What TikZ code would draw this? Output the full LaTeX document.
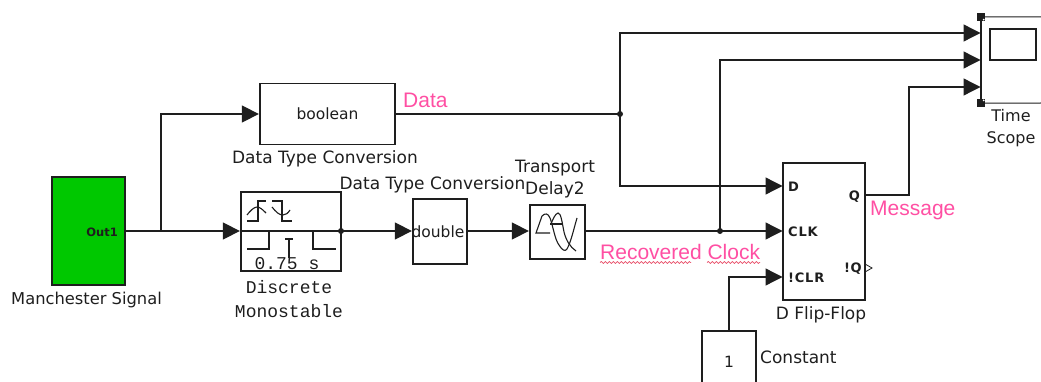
\documentclass[tikz,border=0pt]{standalone}
\usepackage{fontspec}
\setmainfont{DejaVu Sans}
\setmonofont{Liberation Mono}
\newfontfamily\pinkfont{Liberation Sans}
\newfontfamily\portfont[LetterSpace=6]{DejaVu Sans}
\usetikzlibrary{arrows.meta,decorations.pathmorphing}
\definecolor{ink}{HTML}{1E1E1E}
\definecolor{pinklabel}{HTML}{FF4FA3}
\definecolor{simgreen}{HTML}{00C800}
\definecolor{squiggle}{HTML}{E8506A}
\tikzset{
  blockbox/.style={draw=ink,line width=1.3pt,fill=white,inner sep=0pt,text=ink,font=\fontsize{15.5}{17}\selectfont},
  wire/.style={draw=ink,line width=1.3pt},
  sig/.style={wire,-{Triangle[length=17pt,width=17pt]},shorten >=0.5pt},
  dotj/.style={circle,fill=ink,draw=none,inner sep=0pt,minimum size=6pt},
  captext/.style={text=ink,inner sep=0pt,font=\fontsize{17}{22}\selectfont,align=center},
  monotext/.style={text=ink,inner sep=0pt,font=\ttfamily\fontsize{18}{24}\selectfont,align=center},
  pinktext/.style={text=pinklabel,inner sep=0pt,font=\pinkfont\fontsize{21}{24}\selectfont},
  port/.style={text=ink,inner sep=0pt,font=\portfont\bfseries\fontsize{13}{14}\selectfont},
  icon/.style={draw=ink,line width=1.1pt},
  handle/.style={fill=ink,minimum size=8pt,inner sep=0pt},
  wavy/.style={draw=squiggle,line width=.7pt,decorate,decoration={snake,amplitude=1pt,segment length=4pt}},
}
\begin{document}
\begin{tikzpicture}[x=1pt,y=-1pt]
\useasboundingbox (0,0) rectangle (1041,382);

% blocks
\node[blockbox,fill=simgreen,minimum width=73pt,minimum height=108pt] (src) at (88.5,231) {};
\node[text=ink,inner sep=0pt,font=\bfseries\fontsize{11.5}{14}\selectfont,anchor=east] (outlbl) at (118,232) {Out1};
\node[blockbox,minimum width=135pt,minimum height=61pt] (bool) at (327.5,114) {boolean};
\node[blockbox,minimum width=100pt,minimum height=79pt] (mono) at (291,231.5) {};
\node[blockbox,minimum width=54pt,minimum height=65pt] (dbl) at (440,231.5) {\hspace{-4pt}double\hspace{-4pt}};
\node[blockbox,minimum width=55pt,minimum height=54pt] (delay) at (557.5,232) {};
\node[blockbox,minimum width=82pt,minimum height=137pt] (ff) at (824,231.5) {};
\node[blockbox,minimum width=54pt,minimum height=62pt] (const) at (729,362) {1};

% scope
\node[draw=none,minimum width=1pt,minimum height=86pt,inner sep=0pt] (scope) at (981,60) {};
\draw[wire] (scope.north) -- (scope.south);
\coordinate (scopeTR) at (1041,17);
\coordinate (scopeBR) at (1041,103);
\draw[wire,line width=1pt] (scope.north) -- (scopeTR);
\draw[wire,line width=1pt] (scope.south) -- (scopeBR);
\node[draw=ink,line width=1.2pt,minimum width=46pt,minimum height=31pt,inner sep=0pt] (screen) at (1013,44.5) {};
\node[handle] (hTL) at (981,17) {};
\node[handle] (hBL) at (981,103) {};
\fill[white] (hTL.south east) ++(-1.5,-1.5) circle (1pt);
\fill[white] (hBL.north east) ++(-1.5,1.5) circle (1pt);

% junctions and routing points
\coordinate (j0) at (161,231);
\node[dotj] (j1) at (341,231) {};
\node[dotj] (j2) at (620,114) {};
\node[dotj] (j3) at (720,231) {};
\coordinate (inD) at (783,186);
\coordinate (inC) at (783,231);
\coordinate (inR) at (783,277);
\coordinate (outQ) at (865,195);
\coordinate (bendQ) at (909,87);
\coordinate (s1) at (981,33);
\coordinate (s2) at (981,60);
\coordinate (s3) at (981,87);

% connectors
\draw[wire] (src.east |- j0) -- (j0);
\draw[sig] (j0) -- (mono.west |- j0);
\draw[sig] (j0) |- (bool.west);
\draw[wire] (bool.east) -- (j2.center);
\draw[sig] (j2.center) |- (s1);
\draw[sig] (j2.center) |- (inD);
\draw[sig] (mono.east |- j1) -- (dbl.west |- j1);
\draw[sig] (dbl.east |- j1) -- (delay.west |- j1);
\draw[wire] (delay.east |- j3) -- (j3.center);
\draw[sig] (j3.center) -- (inC);
\draw[sig] (j3.center) |- (s2);
\draw[sig] (const.north) |- (inR);
\draw[sig] (outQ) -| (bendQ) -- (s3);

% monostable icon
\draw[icon] (247,221) -- (258,221) -- (258,201) -- (266,201);
\draw[icon] (247,215) .. controls (250,211) and (254,207) .. (257,207) .. controls (260,207) and (263,210) .. (266,213);
\draw[icon] (272,201) -- (282,201) -- (282,221) -- (292,221);
\draw[icon] (272,207) .. controls (276,212) and (279,215) .. (283,215) .. controls (286,215) and (288,213) .. (290,210);
\draw[wire] (mono.west |- j1) -- (mono.east |- j1);
\draw[icon] (247,249) -- (269,249) -- (269,232);
\draw[icon] (285,239) -- (293,239) (289,239) -- (289,258);
\draw[icon] (313,232) -- (313,249) -- (336,249);
\node[monotext] (tdelay) at (287,263.5) {0.75 s};

% transport delay icon
\draw[icon] (550,233) -- (536,233) -- (542,216) .. controls (545,213) and (548,213) .. (550,218) .. controls (553,226) and (555,240) .. (559,245) .. controls (562,250) and (565,252) .. (567,249) .. controls (571,242) and (574,228) .. (577,218);
\draw[icon] (551,224) .. controls (553,219) and (555,214) .. (558,213) .. controls (561,213) and (562,222) .. (564,232) .. controls (566,240) and (570,247) .. (576,251);
\draw[icon] (550,224) -- (563,224);

% captions
\node[captext,font=\fontsize{16.3}{22}\selectfont] (capsrc) at (86.5,300) {Manchester Signal};
\node[captext] (capbool) at (325,159) {Data Type Conversion};
\node[captext] (capdbl) at (432.5,185) {Data Type Conversion};
\node[captext] (capdelay) at (555,179) {Transport\\Delay2};
\node[monotext] (capmono) at (289,299) {Discrete\\Monostable};
\node[captext] (capff) at (821,315) {D Flip-Flop};
\node[captext,anchor=west] (capconst) at (760,357) {Constant};
\node[captext,font=\fontsize{16}{22}\selectfont] (capscope) at (1011,128) {Time\\Scope};

% flip-flop ports
\node[port,anchor=west] (pD) at (788,187) {D};
\node[port,anchor=west] (pC) at (788,232) {CLK};
\node[port,anchor=west] (pR) at (788,278) {!CLR};
\node[port,anchor=east] (pQ) at (860,197) {Q};
\node[port,anchor=east] (pNQ) at (862,269) {!Q};
\coordinate (qa) at (865,264);
\coordinate (qb) at (872,268);
\coordinate (qc) at (865,272);
\draw[icon,line width=.8pt] (qa) -- (qb) -- (qc);

% pink labels
\node[pinktext,anchor=west] (ldata) at (403,100) {Data};
\node[pinktext,anchor=west] (lmsg) at (870,210) {Message};
\node[pinktext,anchor=west] (lclk) at (600,252) {Recovered Clock};
\coordinate (sqA) at (600,262.5);
\coordinate (sqB) at (691,262.5);
\coordinate (sqC) at (707,262.5);
\coordinate (sqD) at (760,262.5);
\draw[wavy] (sqA) -- (sqB);
\draw[wavy] (sqC) -- (sqD);
\end{tikzpicture}
\end{document}
